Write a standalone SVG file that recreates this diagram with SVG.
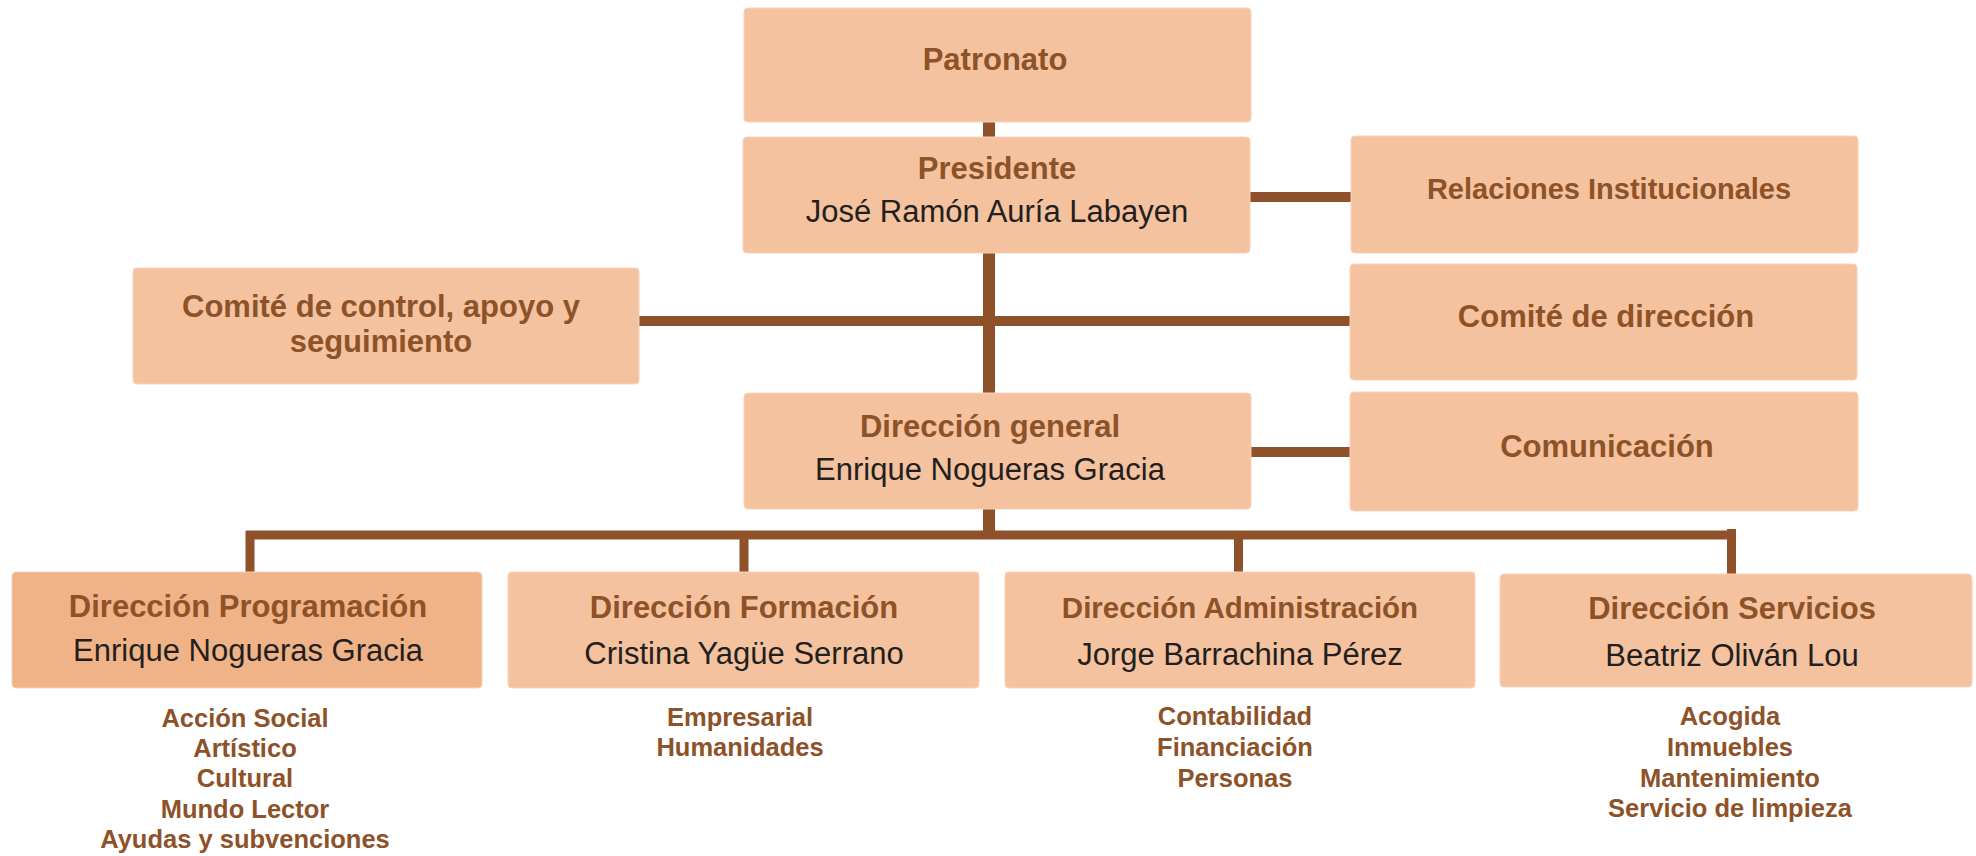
<svg xmlns="http://www.w3.org/2000/svg" width="1976" height="856" viewBox="0 0 1976 856">
<style>
.box{fill:#F4C29E;stroke:#F7D2B6;stroke-width:1}
.dark{fill:#F0B287}
.t{font-family:"Liberation Sans",Arial,Helvetica,sans-serif;font-size:31px;font-weight:bold;fill:#8E5229;text-anchor:middle}
.n{font-family:"Liberation Sans",Arial,Helvetica,sans-serif;font-size:31px;fill:#231F20;text-anchor:middle}
.s{font-family:"Liberation Sans",Arial,Helvetica,sans-serif;font-size:25.5px;font-weight:bold;fill:#8E5229;text-anchor:middle}
.c{stroke:#8F5129;fill:none}
</style>
<rect width="1976" height="856" fill="#FFFFFF"/>
<g id="connectors">
<line class="c" x1="989" y1="121" x2="989" y2="539" stroke-width="12"/>
<line class="c" x1="1250" y1="197" x2="1351" y2="197" stroke-width="10"/>
<line class="c" x1="639" y1="321" x2="1350" y2="321" stroke-width="10"/>
<line class="c" x1="1251" y1="452" x2="1350" y2="452" stroke-width="10"/>
<line class="c" x1="246" y1="535" x2="1736" y2="535" stroke-width="9"/>
<line class="c" x1="250" y1="531" x2="250" y2="573" stroke-width="9"/>
<line class="c" x1="744" y1="535" x2="744" y2="573" stroke-width="9"/>
<line class="c" x1="1238.5" y1="535" x2="1238.5" y2="573" stroke-width="9"/>
<line class="c" x1="1731.5" y1="529" x2="1731.5" y2="575" stroke-width="9"/>
</g>
<g id="patronato">
<rect class="box" x="744" y="8" width="507" height="114" rx="4"/>
<text class="t" x="995" y="70">Patronato</text>
</g>
<g id="presidente">
<rect class="box" x="743" y="137" width="507" height="116" rx="4"/>
<text class="t" x="997" y="179">Presidente</text>
<text class="n" x="997" y="222">José Ramón Auría Labayen</text>
</g>
<g id="relaciones">
<rect class="box" x="1351" y="136" width="507" height="117" rx="4"/>
<text class="t" x="1609" y="199" style="font-size:29px">Relaciones Institucionales</text>
</g>
<g id="comite-control">
<rect class="box" x="133" y="268" width="506" height="116" rx="4"/>
<text class="t" x="381" y="317">Comité de control, apoyo y</text>
<text class="t" x="381" y="352">seguimiento</text>
</g>
<g id="comite-direccion">
<rect class="box" x="1350" y="264" width="507" height="116" rx="4"/>
<text class="t" x="1606" y="327">Comité de dirección</text>
</g>
<g id="direccion-general">
<rect class="box" x="744" y="393" width="507" height="116" rx="4"/>
<text class="t" x="990" y="437">Dirección general</text>
<text class="n" x="990" y="480">Enrique Nogueras Gracia</text>
</g>
<g id="comunicacion">
<rect class="box" x="1350" y="392" width="508" height="119" rx="4"/>
<text class="t" x="1607" y="457">Comunicación</text>
</g>
<g id="programacion">
<rect class="box dark" x="12" y="572" width="470" height="116" rx="4"/>
<text class="t" x="248" y="617">Dirección Programación</text>
<text class="n" x="248" y="661">Enrique Nogueras Gracia</text>
<text class="s" x="245" y="727">Acción Social</text>
<text class="s" x="245" y="757">Artístico</text>
<text class="s" x="245" y="787">Cultural</text>
<text class="s" x="245" y="818">Mundo Lector</text>
<text class="s" x="245" y="848">Ayudas y subvenciones</text>
</g>
<g id="formacion">
<rect class="box" x="508" y="572" width="471" height="116" rx="4"/>
<text class="t" x="744" y="618">Dirección Formación</text>
<text class="n" x="744" y="664">Cristina Yagüe Serrano</text>
<text class="s" x="740" y="726">Empresarial</text>
<text class="s" x="740" y="756">Humanidades</text>
</g>
<g id="administracion">
<rect class="box" x="1005" y="572" width="470" height="116" rx="4"/>
<text class="t" x="1240" y="618" style="font-size:29.5px">Dirección Administración</text>
<text class="n" x="1240" y="665">Jorge Barrachina Pérez</text>
<text class="s" x="1235" y="725">Contabilidad</text>
<text class="s" x="1235" y="756">Financiación</text>
<text class="s" x="1235" y="787">Personas</text>
</g>
<g id="servicios">
<rect class="box" x="1500" y="574" width="472" height="113" rx="4"/>
<text class="t" x="1732" y="619">Dirección Servicios</text>
<text class="n" x="1732" y="666">Beatriz Oliván Lou</text>
<text class="s" x="1730" y="725">Acogida</text>
<text class="s" x="1730" y="756">Inmuebles</text>
<text class="s" x="1730" y="787">Mantenimiento</text>
<text class="s" x="1730" y="817">Servicio de limpieza</text>
</g>
</svg>
